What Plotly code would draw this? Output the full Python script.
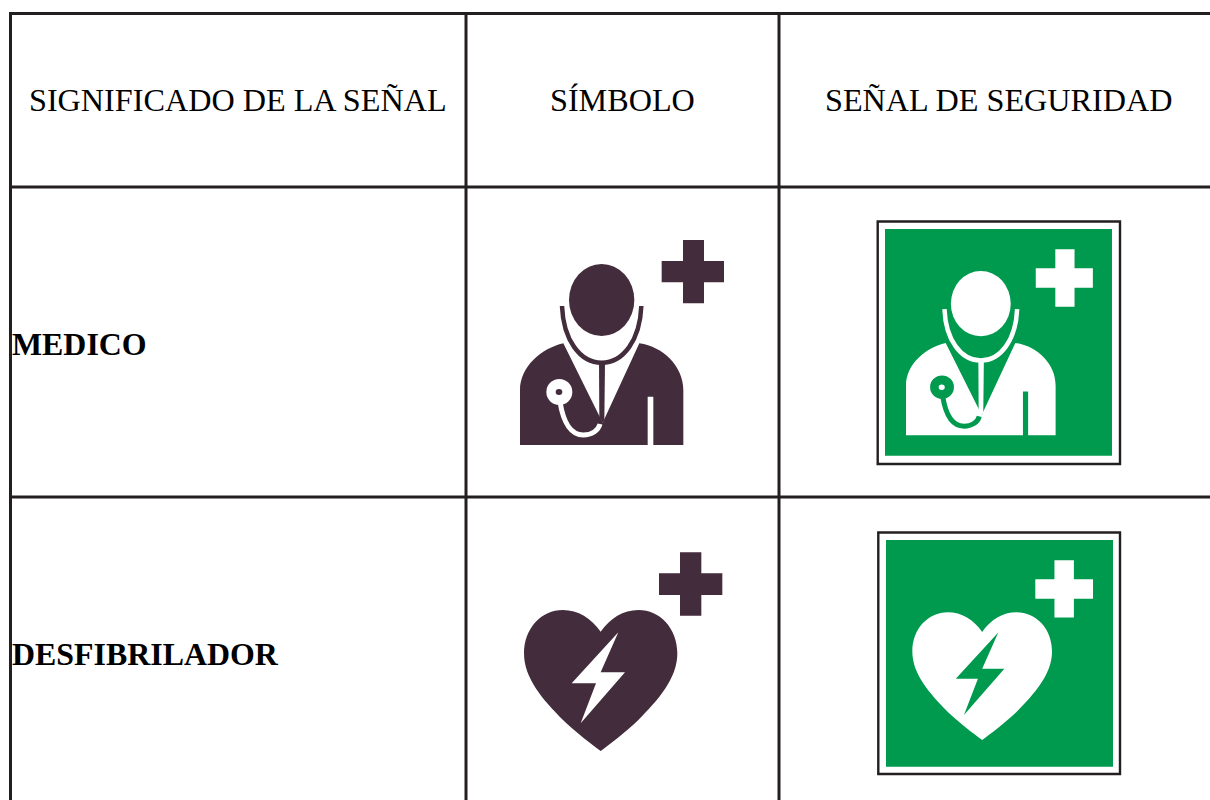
import plotly.graph_objects as go

HEADERS = ["SIGNIFICADO DE LA SEÑAL", "SÍMBOLO", "SEÑAL DE SEGURIDAD"]
ROW_LABELS = ["MEDICO", "DESFIBRILADOR"]

LINE = "#231f20"
INK = "#432c3b"
GREEN = "#009a4e"
WHITE = "#ffffff"
FONT = "Liberation Serif"

shapes = []


def tf(ox, oy, base_x, base_y, sx, sy, ax, ay):
    return lambda x, y: (ox + (ax + (x - base_x) * sx) / 3, oy + (ay + (y - base_y) * sy) / 3)


def path(cmds, t):
    out = []
    for c in cmds:
        pts = c[1:]
        coords = [t(pts[i], pts[i + 1]) for i in range(0, len(pts), 2)]
        out.append(c[0] + " ".join(f"{x:.2f},{y:.2f}" for x, y in coords))
    return " ".join(out)


def fill(cmds, t, color):
    shapes.append(dict(type="path", path=path(cmds, t) + " Z", fillcolor=color, line=dict(width=0), layer="above"))


def stroke(cmds, t, color, width):
    shapes.append(dict(type="path", path=path(cmds, t), fillcolor="rgba(0,0,0,0)",
                       line=dict(color=color, width=width), layer="above"))


def ellipse(cx, cy, rx, ry, t, color):
    x0, y0 = t(cx - rx, cy - ry)
    x1, y1 = t(cx + rx, cy + ry)
    shapes.append(dict(type="circle", x0=x0, x1=x1, y0=y0, y1=y1, fillcolor=color, line=dict(width=0), layer="above"))


def cross(hx0, hx1, hy0, hy1, vx0, vx1, vy0, vy1, t, color):
    fill([("M", hx0, hy0), ("L", vx0, hy0), ("L", vx0, vy0), ("L", vx1, vy0), ("L", vx1, hy0),
          ("L", hx1, hy0), ("L", hx1, hy1), ("L", vx1, hy1), ("L", vx1, vy1), ("L", vx0, vy1),
          ("L", vx0, hy1), ("L", hx0, hy1)], t, color)


def doctor(t, ink, paper):
    cross(485, 672, 93, 157, 549, 612, 30, 220, t, ink)
    fill([("M", 60, 645), ("L", 60, 480), ("C", 60, 410, 125, 355, 190, 340), ("L", 308, 578),
          ("L", 418, 340), ("C", 490, 350, 550, 410, 550, 480), ("L", 550, 645), ("L", 460, 645),
          ("L", 460, 500), ("L", 443, 500), ("L", 443, 645)], t, ink)
    ellipse(305, 210, 98, 108, t, ink)
    stroke([("M", 186, 228), ("C", 190, 330, 240, 398, 305, 398), ("C", 370, 398, 420, 330, 424, 228)], t, ink, 4.5)
    fill([("M", 297, 398), ("L", 315, 398), ("L", 313, 570), ("L", 307, 578), ("L", 298, 562)], t, ink)
    stroke([("M", 180, 515), ("C", 190, 580, 215, 615, 250, 615), ("C", 275, 615, 295, 602, 300, 582)], t, paper, 5)
    ellipse(178, 486, 39, 39, t, paper)
    ellipse(177, 486, 10, 9, t, ink)


def heart(t, ink, paper):
    cross(447, 637, 85, 150, 510, 574, 22, 212, t, ink)
    fill([("M", 272, 260), ("C", 300, 220, 340, 195, 385, 195), ("C", 450, 195, 502, 250, 502, 325),
          ("C", 502, 400, 445, 465, 385, 525), ("C", 345, 563, 300, 597, 272, 618),
          ("C", 244, 597, 199, 563, 159, 525), ("C", 99, 465, 42, 400, 42, 325),
          ("C", 42, 250, 94, 195, 159, 195), ("C", 204, 195, 244, 220, 272, 260)], t, ink)
    fill([("M", 325, 262), ("L", 185, 415), ("L", 258, 415), ("L", 212, 535), ("L", 345, 382), ("L", 272, 382)], t, paper)


def frame(x0, x1, y0, y1, gx0, gx1, gy0, gy1):
    shapes.append(dict(type="rect", x0=x0, x1=x1, y0=y0, y1=y1, fillcolor=WHITE,
                       line=dict(color=LINE, width=2.4), layer="above"))
    shapes.append(dict(type="rect", x0=gx0, x1=gx1, y0=gy0, y1=gy1, fillcolor=GREEN,
                       line=dict(width=0), layer="above"))


# table rules
for x0, x1, y0, y1 in [(9, 1210, 13.5, 13.5), (9, 1210, 187, 187), (9, 1210, 497, 497),
                       (10.5, 10.5, 12, 800), (466, 466, 12, 800), (779, 779, 12, 800)]:
    shapes.append(dict(type="line", x0=x0, x1=x1, y0=y0, y1=y1, line=dict(color=LINE, width=3)))

# first row of icons
doctor(tf(500, 230, 0, 0, 1, 1, 0, 0), INK, WHITE)
frame(877.7, 1120, 221.5, 464, 885, 1112, 229, 455.7)
doctor(tf(870, 215, 60, 645, 0.916, 0.908, 108, 661), WHITE, GREEN)

# second row of icons
heart(tf(510, 545, 0, 0, 1, 1, 0, 0), INK, WHITE)
frame(878.3, 1120, 532.5, 774, 886, 1113, 540, 766.7)
heart(tf(870, 525, 42, 195, 0.911, 0.905, 127, 262), WHITE, GREEN)

annotations = []
for text, x, anchor in zip(HEADERS, [238, 622.5, 999], ["center"] * 3):
    annotations.append(dict(x=x, y=100, text=text, xanchor=anchor, yanchor="middle", showarrow=False,
                            font=dict(family=FONT, size=32.2, color="#000000")))
for text, y in zip(ROW_LABELS, [344, 654]):
    annotations.append(dict(x=10, y=y, text=f"<b>{text}</b>", xanchor="left", yanchor="middle", showarrow=False,
                            font=dict(family=FONT, size=31.9, color="#000000")))

fig = go.Figure()
fig.update_layout(
    width=1210, height=800, margin=dict(l=0, r=0, t=0, b=0),
    paper_bgcolor=WHITE, plot_bgcolor=WHITE, showlegend=False,
    xaxis=dict(range=[0, 1210], visible=False, fixedrange=True),
    yaxis=dict(range=[800, 0], visible=False, fixedrange=True),
    shapes=shapes, annotations=annotations,
)
fig.write_html("out.html", config=dict(displayModeBar=False),
               post_script="document.body.style.margin='0';document.body.style.overflow='hidden';")
